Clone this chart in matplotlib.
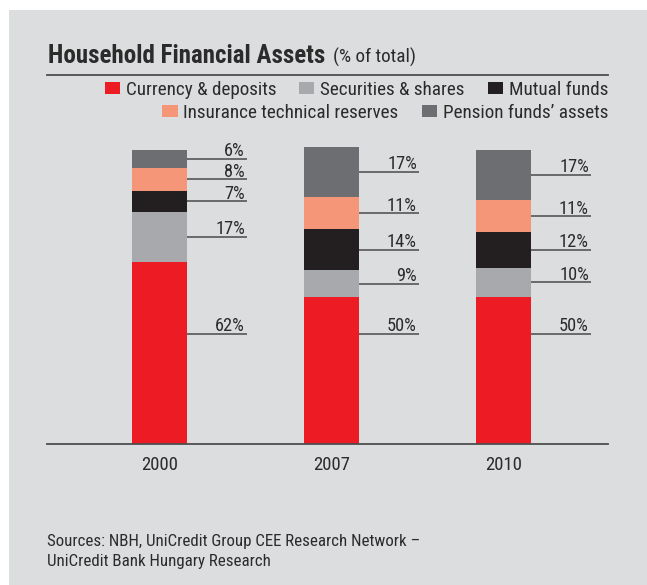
import matplotlib
matplotlib.use("Agg")
import matplotlib.pyplot as plt
from matplotlib import font_manager
from matplotlib.patches import Rectangle, Patch
import numpy as np

# ---- data ----
years = ["2000", "2007", "2010"]
series_names = ["Currency & deposits", "Securities & shares", "Mutual funds",
                "Insurance technical reserves", "Pension funds\u2019 assets"]
currency_deposits = [62, 50, 50]
securities_shares = [17, 9, 10]
mutual_funds = [7, 14, 12]
insurance_reserves = [8, 11, 11]
pension_funds = [6, 17, 17]
title = "Household Financial Assets"
subtitle = "(% of total)"
source_lines = ["Sources: NBH, UniCredit Group CEE Research Network \u2013",
                "UniCredit Bank Hungary Research"]

series = [currency_deposits, securities_shares, mutual_funds,
          insurance_reserves, pension_funds]
colors = ["#ed1c24", "#a7a9ac", "#231f20", "#f69679", "#6d6e71"]

# ---- font ----
def pick_font():
    for fam in ["Liberation Sans Narrow", "Roboto Condensed", "DejaVu Sans"]:
        try:
            font_manager.findfont(font_manager.FontProperties(family=fam),
                                  fallback_to_default=False)
            return fam
        except Exception:
            continue
    return "DejaVu Sans"

FONT = pick_font()
plt.rcParams["font.family"] = [FONT, "DejaVu Sans"]
TXT = "#2b2b2b"

W, H = 647, 585
fig = plt.figure(figsize=(W / 100, H / 100), dpi=100, facecolor="white")

def fx(px):
    return px / W

def fy(py):
    return 1 - py / H

# gray panel
fig.patches.append(Rectangle((fx(9), 0), 1 - fx(9), fy(10), transform=fig.transFigure,
                             facecolor="#dcdddf", edgecolor="none", zorder=-10))

# ---- axes ----
ax = fig.add_axes([fx(47), fy(444), (608 - 47) / W, (444 - 144) / H], zorder=2)
ax.set_facecolor("none")
ax.set_ylim(0, 102)
ax.set_xlim(-0.654, 2.608)
x = np.arange(len(years))
bw = 0.32
bottom = np.zeros(len(years))
RED_LABEL_Y = 37.5
for i, (vals, col) in enumerate(zip(series, colors)):
    vals = np.array(vals, dtype=float)
    ax.bar(x, vals, bw, bottom=bottom, color=col, label=series_names[i], zorder=2)
    for j in range(len(years)):
        yy = RED_LABEL_Y if i == 0 else bottom[j] + vals[j] / 2
        ax.plot([x[j] + bw / 2, x[j] + 0.509], [yy, yy], color="#4a4a4a", lw=1.1,
                solid_capstyle="butt", zorder=3)
        ax.annotate(f"{int(vals[j])}%", xy=(x[j] + 0.509, yy), xytext=(-2, 2.5),
                    textcoords="offset pixels", ha="right", va="baseline",
                    fontsize=13.2, color=TXT)
    bottom += vals

for s in ["top", "left", "right"]:
    ax.spines[s].set_visible(False)
ax.spines["bottom"].set_color("#4d4d4d")
ax.spines["bottom"].set_linewidth(1.3)
ax.set_yticks([])
ax.set_xticks(x)
ax.set_xticklabels(years, fontsize=13.5, color=TXT)
ax.tick_params(axis="x", length=0, pad=8.5)

# ---- title ----
t = fig.text(fx(48), fy(63), title, fontsize=18, fontweight="bold", color=TXT,
             va="baseline", ha="left")
fig.canvas.draw()
bb = t.get_window_extent()
fig.text((bb.x1 + 8) / W, fy(63), subtitle, fontsize=13.8, color=TXT,
         va="baseline", ha="left")
fig.add_artist(plt.Line2D([fx(47), fx(608)], [fy(74.5), fy(74.5)],
                          transform=fig.transFigure, color="#4d4d4d", lw=1.3))

# ---- legend (two right-aligned rows) ----
handles = [Patch(facecolor=c, edgecolor="none") for c in colors]
leg_kw = dict(frameon=False, fontsize=13.8, handlelength=0.8, handleheight=0.55,
              handletextpad=0.3, columnspacing=1.2, borderpad=0, borderaxespad=0,
              loc="upper right", bbox_transform=fig.transFigure, labelcolor=TXT)
leg1 = fig.legend(handles[:3], series_names[:3], ncol=3,
                  bbox_to_anchor=(fx(608), fy(81)), **leg_kw)
leg2 = fig.legend(handles[3:], series_names[3:], ncol=2,
                  bbox_to_anchor=(fx(608), fy(104)), **leg_kw)

# ---- sources ----
fig.text(fx(47), fy(546), source_lines[0], fontsize=12.2, color=TXT, va="baseline")
fig.text(fx(47), fy(566), source_lines[1], fontsize=12.2, color=TXT, va="baseline")

fig.savefig("out.png", dpi=100, facecolor="white")
